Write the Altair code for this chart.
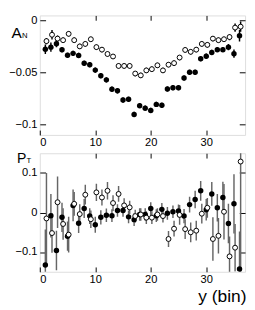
import altair as alt
import pandas as pd

# ---------------- data ----------------
bins = list(range(1, 37))

an_filled = [-0.0275, -0.0255, -0.0222, -0.0280, -0.0333, -0.0315, -0.0335, -0.0410, -0.0424, -0.0476,
             -0.0530, -0.0570, -0.0660, -0.0675, -0.0764, -0.0757, -0.0903, -0.0818, -0.0842, -0.0864,
             -0.0806, -0.0815, -0.0658, -0.0645, -0.0645, -0.0552, -0.0497, -0.0497, -0.0367, -0.0342,
             -0.0306, -0.0279, -0.0279, -0.0255, -0.0318, -0.0145]
an_filled_err = [0.0045, 0.0045, 0.0035, 0.0025, 0.0025, 0.0025, 0.0025, 0.0025, 0.0025, 0.0025,
                 0.0025, 0.0025, 0.0025, 0.0025, 0.0025, 0.0025, 0.0025, 0.0025, 0.0025, 0.0025,
                 0.0025, 0.0025, 0.0025, 0.0025, 0.0025, 0.0025, 0.0025, 0.0025, 0.0025, 0.0025,
                 0.0025, 0.0025, 0.0025, 0.0030, 0.0040, 0.0055]
an_open = [-0.0197, -0.0136, -0.0173, -0.0188, -0.0127, -0.0188, -0.0248, -0.0224, -0.0179, -0.0255,
           -0.0279, -0.0321, -0.0345, -0.0436, -0.0436, -0.0436, -0.0509, -0.0527, -0.0479, -0.0467,
           -0.0430, -0.0479, -0.0424, -0.0409, -0.0355, -0.0282, -0.0300, -0.0279, -0.0224, -0.0233,
           -0.0173, -0.0188, -0.0179, -0.0158, -0.0067, -0.0058]
an_open_err = [0.0030, 0.0045, 0.0030, 0.0025, 0.0025, 0.0025, 0.0025, 0.0025, 0.0025, 0.0025,
               0.0025, 0.0025, 0.0025, 0.0025, 0.0025, 0.0025, 0.0025, 0.0025, 0.0025, 0.0025,
               0.0025, 0.0025, 0.0025, 0.0025, 0.0025, 0.0025, 0.0025, 0.0025, 0.0025, 0.0025,
               0.0025, 0.0025, 0.0025, 0.0030, 0.0040, 0.0050]

pt_filled = [-0.133, -0.008, -0.096, -0.012, -0.060, 0.018, -0.027, 0.010, -0.009, -0.031,
             -0.012, -0.007, -0.008, 0.005, 0.005, -0.011, -0.018, -0.005, -0.005, 0.010,
             -0.008, 0.008, -0.002, 0.002, 0.004, -0.009, 0.020, 0.033, 0.055, 0.007,
             0.047, 0.012, 0.038, -0.028, 0.022, -0.143]
pt_filled_err = [0.090, 0.055, 0.050, 0.037, 0.037, 0.040, 0.025, 0.024, 0.020, 0.020,
                 0.018, 0.017, 0.016, 0.016, 0.016, 0.016, 0.016, 0.016, 0.016, 0.016,
                 0.016, 0.016, 0.016, 0.016, 0.016, 0.018, 0.020, 0.022, 0.025, 0.027,
                 0.030, 0.035, 0.040, 0.050, 0.075, 0.095]
pt_open = [-0.015, -0.052, 0.026, -0.029, -0.056, 0.022, -0.004, 0.045, -0.017, 0.051,
           0.038, 0.055, 0.024, 0.047, 0.018, 0.013, -0.009, -0.005, -0.013, -0.013,
           -0.005, -0.009, -0.067, -0.041, -0.006, -0.042, -0.050, -0.046, -0.003, 0.012,
           -0.067, -0.059, 0.002, -0.111, -0.089, 0.129]
pt_open_err = [0.115, 0.050, 0.065, 0.040, 0.045, 0.030, 0.025, 0.025, 0.022, 0.022,
               0.020, 0.022, 0.020, 0.020, 0.018, 0.017, 0.016, 0.016, 0.016, 0.016,
               0.016, 0.016, 0.020, 0.020, 0.025, 0.025, 0.025, 0.025, 0.025, 0.025,
               0.055, 0.045, 0.070, 0.050, 0.060, 0.280]

x_ticks = [0, 10, 20, 30]
x_inner_ticks = [10, 20, 30]
an_ticks = [0, -0.05, -0.1]
pt_ticks = [0.1, 0, -0.1]
x_title = "y (bin)"
an_label = ["A", "N"]
pt_label = ["P", "T"]

# ---------------- style ----------------
FONT = "Liberation Sans"
LABEL_SIZE = 11.5
W = 213
H_TOP = 124
H_BOT = 123
GAP = 19
OPEN_SHIFT = 0.2


def panel(filled, filled_err, opn, opn_err, ydomain, yticks, yfmt, height,
          err_color, sym, sym_pos, sub_pos, sym_size, with_title):
    df = pd.DataFrame({"bin": bins, "f": filled, "fe": filled_err,
                       "o": opn, "oe": opn_err})
    base = alt.Chart(df).transform_calculate(
        f_lo="datum.f - datum.fe", f_hi="datum.f + datum.fe",
        o_lo="datum.o - datum.oe", o_hi="datum.o + datum.oe",
        bo=f"datum.bin + {OPEN_SHIFT}",
    )
    xs = alt.Scale(domain=[0, 37], nice=False, zero=False)
    ys = alt.Scale(domain=ydomain, nice=False, zero=False)

    bottom_axis_kw = dict(orient="bottom", values=x_ticks, offset=-5, tickSize=5,
                          domain=False, grid=False, labelPadding=2,
                          labelFont=FONT, labelFontSize=LABEL_SIZE,
                          labelColor="black", tickColor="black")
    if with_title:
        bottom_axis_kw.update(title=x_title, titleFont=FONT, titleFontSize=18,
                              titleFontWeight="normal", titleColor="black",
                              titleAlign="right", titleBaseline="alphabetic",
                              titleX=W + 1, titleY=36)
    else:
        bottom_axis_kw.update(title=None)
    x_bottom = alt.X("bin:Q", scale=xs, axis=alt.Axis(**bottom_axis_kw))
    x_top = alt.X("bo:Q", scale=xs, axis=alt.Axis(
        orient="top", values=x_inner_ticks, offset=-5, tickSize=5, domain=False,
        grid=False, labels=False, title=None, tickColor="black"))
    y_left = alt.Y("f_lo:Q", scale=ys, axis=alt.Axis(
        orient="left", values=yticks, format=yfmt, offset=-6, tickSize=6,
        domain=False, grid=False, labelPadding=3, labelFont=FONT,
        labelFontSize=LABEL_SIZE, labelColor="black", tickColor="black", title=None))
    y_right = alt.Y("o_lo:Q", scale=ys, axis=alt.Axis(
        orient="right", values=yticks, offset=-6, tickSize=6, domain=False,
        grid=False, labels=False, tickColor="black", title=None))

    f_err = base.mark_rule(color=err_color, strokeWidth=1.5, clip=True).encode(
        x=x_bottom, y=y_left, y2="f_hi:Q")
    o_err = base.mark_rule(color=err_color, strokeWidth=1.5, clip=True).encode(
        x=x_top, y=y_right, y2="o_hi:Q")
    f_pts = base.mark_point(shape="circle", filled=True, color="black", size=32,
                            opacity=1, clip=True).encode(
        x=alt.X("bin:Q", scale=xs, axis=None),
        y=alt.Y("f:Q", scale=ys, axis=None))
    o_pts = base.mark_point(shape="circle", filled=True, fill="white", stroke="black",
                            strokeWidth=1, size=26, opacity=1, clip=True).encode(
        x=alt.X("bo:Q", scale=xs, axis=None),
        y=alt.Y("o:Q", scale=ys, axis=None))

    lab_df = pd.DataFrame({"t": [sym[0]]})
    sub_df = pd.DataFrame({"t": [sym[1]]})
    main_txt = alt.Chart(lab_df).mark_text(
        font=FONT, fontSize=sym_size, align="left", baseline="alphabetic",
        color="black").encode(text="t:N", x=alt.value(sym_pos[0]), y=alt.value(sym_pos[1]))
    sub_txt = alt.Chart(sub_df).mark_text(
        font=FONT, fontSize=8, align="left", baseline="alphabetic",
        color="black").encode(text="t:N", x=alt.value(sub_pos[0]), y=alt.value(sub_pos[1]))

    return alt.layer(f_err, o_err, f_pts, o_pts, main_txt, sub_txt).properties(
        width=W, height=height)


top = panel(an_filled, an_filled_err, an_open, an_open_err, [-0.11, 0.005], an_ticks,
            ".2~f", H_TOP, "black", an_label, (-29.3, 23), (-18.4, 23.8), 16, False)
bottom = panel(pt_filled, pt_filled_err, pt_open, pt_open_err, [-0.15, 0.15], pt_ticks,
               ".1~f", H_BOT, "#666666", pt_label, (-23.7, 10.3), (-13.8, 10.6), 14.5, True)

chart = alt.vconcat(top, bottom, spacing=GAP, bounds="flush").properties(
    padding={"left": 0, "top": 0, "right": 0, "bottom": 0}
).configure_view(stroke="black", strokeWidth=1).configure(background="white")

chart.save("out.html", embed_options={"renderer": "svg", "actions": False})
